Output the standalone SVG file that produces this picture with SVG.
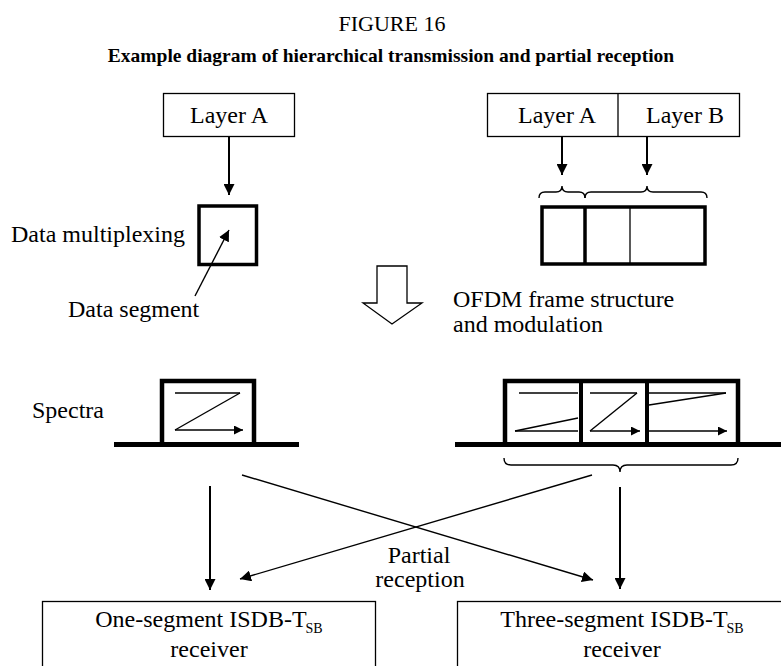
<svg xmlns="http://www.w3.org/2000/svg" width="781" height="666" viewBox="0 0 781 666">
<style>
text{font-family:"Liberation Serif","Times New Roman",serif;fill:#000}
.lbl{font-size:24px}
.thin{fill:none;stroke:#000;stroke-width:1.3}
.thick{fill:none;stroke:#000;stroke-width:4.5}
.ln{fill:none;stroke:#000;stroke-width:1.4}
.arr{fill:none;stroke:#000;stroke-width:2}
</style>
<defs>
<marker id="ah" viewBox="0 0 10 10" refX="10" refY="5" markerWidth="11" markerHeight="11" markerUnits="userSpaceOnUse" orient="auto"><path d="M0,0 L10,5 L0,10 z" fill="#000"/></marker>
<marker id="ahs" viewBox="0 0 10 10" refX="10" refY="5" markerWidth="9" markerHeight="9" markerUnits="userSpaceOnUse" orient="auto"><path d="M0,0 L10,5 L0,10 z" fill="#000"/></marker>
</defs>
<rect width="781" height="666" fill="#fff"/>
<g id="title">
<text x="392" y="31" font-size="22" text-anchor="middle">FIGURE 16</text>
<text x="391" y="62" font-size="19.5" font-weight="bold" text-anchor="middle">Example diagram of hierarchical transmission and partial reception</text>
</g>
<g id="layerA-left">
<rect class="thin" x="163.5" y="93.5" width="131" height="43"/>
<text class="lbl" x="229" y="123" text-anchor="middle">Layer A</text>
</g>
<g id="data-segment-box">
<rect x="199" y="206" width="57.5" height="58.5" fill="none" stroke="#000" stroke-width="3.5"/>
<text class="lbl" x="11" y="242">Data multiplexing</text>
<text class="lbl" x="68" y="317">Data segment</text>
</g>
<g id="layers-right">
<rect class="thin" x="487.5" y="93.5" width="252" height="43"/>
<line class="thin" x1="618" y1="93.5" x2="618" y2="136.5"/>
<text class="lbl" x="557" y="123" text-anchor="middle">Layer A</text>
<text class="lbl" x="685" y="123" text-anchor="middle">Layer B</text>
</g>
<g id="ofdm-frame">
<rect x="542" y="207" width="163" height="57" fill="none" stroke="#000" stroke-width="3.5"/>
<line x1="585" y1="207" x2="585" y2="264" stroke="#000" stroke-width="3.5"/>
<line x1="630" y1="207" x2="630" y2="264" stroke="#000" stroke-width="1.3"/>
<path class="ln" d="M539,198 Q539,192 545,192 L556,192 Q562,192 562,186 Q562,192 568,192 L579,192 Q585,192 585,198"/>
<path class="ln" d="M585,198 Q585,192 591,192 L641,192 Q647,192 647,186 Q647,192 653,192 L701,192 Q707,192 707,198"/>
</g>
<g id="hollow-arrow">
<path d="M377,266 H407 V303 H422 L392,324 L363,303 H377 Z" fill="#fff" stroke="#000" stroke-width="1.3"/>
<text class="lbl" x="453" y="307">OFDM frame structure</text>
<text class="lbl" x="453" y="332">and modulation</text>
</g>
<g id="spectrum-left">
<text class="lbl" x="32" y="418">Spectra</text>
<rect x="114" y="442" width="185" height="5" fill="#000"/>
<path class="thick" d="M162,443 V381 H254 V443"/>
<line class="ln" x1="175" y1="393" x2="240" y2="393"/>
<line class="ln" x1="240" y1="393" x2="175" y2="430"/>
<line class="ln" x1="175" y1="430" x2="243" y2="430" marker-end="url(#ahs)"/>
</g>
<g id="spectrum-right">
<rect x="455" y="442" width="326" height="5" fill="#000"/>
<path class="thick" d="M505,443 V381 H738 V443"/>
<line x1="581" y1="381" x2="581" y2="443" stroke="#000" stroke-width="4"/>
<line x1="647" y1="381" x2="647" y2="443" stroke="#000" stroke-width="4"/>
<line class="ln" x1="519" y1="393" x2="578" y2="393"/>
<line class="ln" x1="578" y1="418" x2="515" y2="431"/>
<line class="ln" x1="515" y1="431" x2="578" y2="431"/>
<line class="ln" x1="590" y1="393" x2="637" y2="393"/>
<line class="ln" x1="637" y1="393" x2="590" y2="431"/>
<line class="ln" x1="590" y1="431" x2="640" y2="431" marker-end="url(#ahs)"/>
<line class="ln" x1="649" y1="393" x2="726" y2="393"/>
<line class="ln" x1="726" y1="393" x2="649" y2="405"/>
<line class="ln" x1="649" y1="431" x2="727" y2="431" marker-end="url(#ahs)"/>
<path class="ln" d="M504,458 Q504,465 511,465 L613,465 Q620,465 620,472 Q620,465 627,465 L731,465 Q738,465 738,458"/>
</g>
<g id="connectors">
<line class="arr" x1="229" y1="137" x2="229" y2="195" marker-end="url(#ah)"/>
<line class="arr" x1="562" y1="137" x2="562" y2="175" marker-end="url(#ah)"/>
<line class="arr" x1="647" y1="137" x2="647" y2="175" marker-end="url(#ah)"/>
<line class="ln" x1="195" y1="296" x2="229" y2="230" marker-end="url(#ah)"/>
<line class="arr" x1="210" y1="486" x2="210" y2="590" marker-end="url(#ah)"/>
<line class="arr" x1="620" y1="487" x2="620" y2="589" marker-end="url(#ah)"/>
<line class="ln" x1="242" y1="475" x2="593" y2="580" marker-end="url(#ah)"/>
<line class="ln" x1="592" y1="475" x2="240" y2="579" marker-end="url(#ah)"/>
<text class="lbl" x="419" y="563" text-anchor="middle">Partial</text>
<text class="lbl" x="420" y="587" text-anchor="middle">reception</text>
</g>
<g id="receiver-one">
<rect class="thin" x="42.5" y="601.5" width="333" height="80"/>
<text class="lbl" x="209" y="627" text-anchor="middle">One-segment ISDB-T<tspan font-size="14" dx="-1" dy="6">SB</tspan></text>
<text class="lbl" x="209" y="657" text-anchor="middle">receiver</text>
</g>
<g id="receiver-three">
<rect class="thin" x="457.5" y="601.5" width="333" height="80"/>
<text class="lbl" x="622" y="627" text-anchor="middle">Three-segment ISDB-T<tspan font-size="14" dx="-1" dy="6">SB</tspan></text>
<text class="lbl" x="622" y="657" text-anchor="middle">receiver</text>
</g>
</svg>
